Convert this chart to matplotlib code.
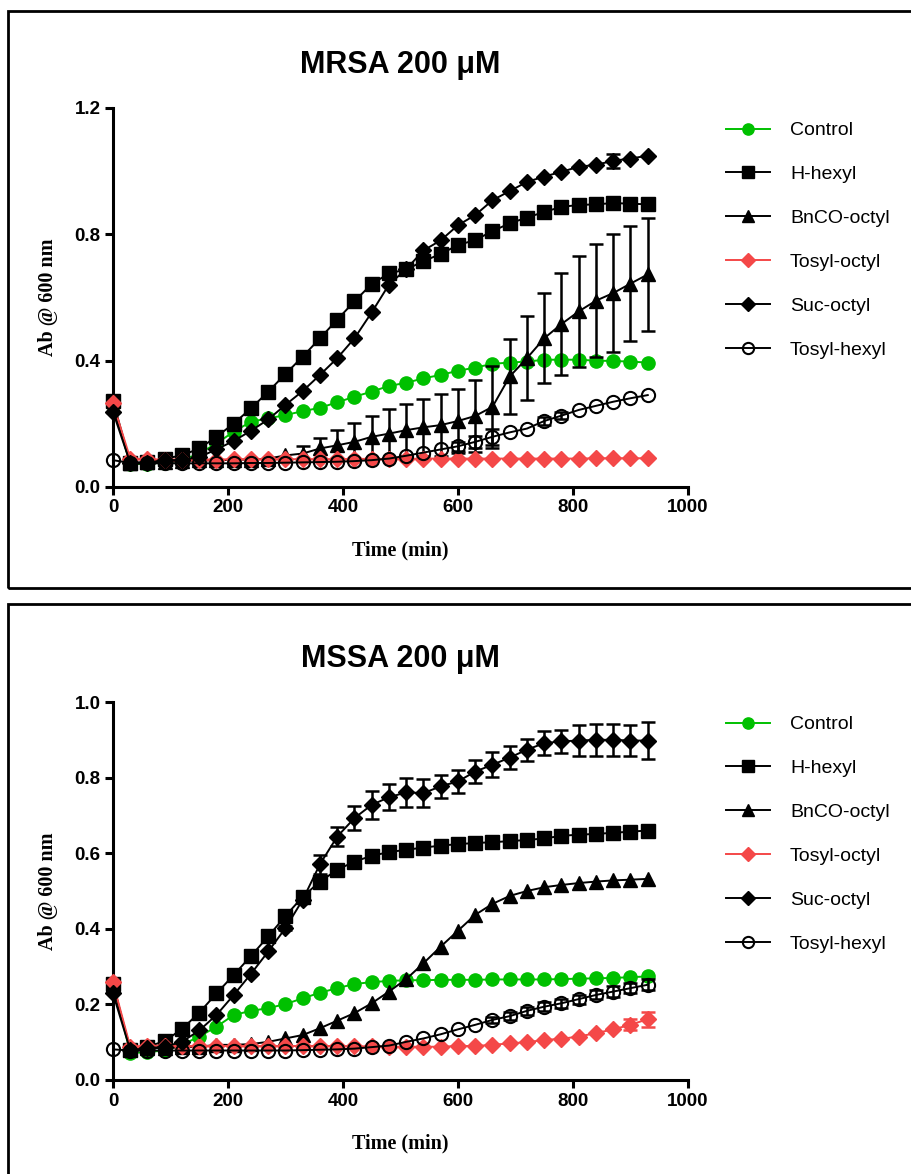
import numpy as np
import matplotlib.pyplot as plt
from matplotlib.patches import Rectangle

# --- data ---
time = [0, 30, 60, 90, 120, 150, 180, 210, 240, 270, 300, 330, 360, 390, 420, 450,
        480, 510, 540, 570, 600, 630, 660, 690, 720, 750, 780, 810, 840, 870, 900, 930]
labels = ['Control', 'H-hexyl', 'BnCO-octyl', 'Tosyl-octyl', 'Suc-octyl', 'Tosyl-hexyl']

# MRSA 200 uM
mrsa_control = [0.26, 0.072, 0.074, 0.077, 0.085, 0.106, 0.138, 0.175, 0.207, 0.217, 0.228, 0.240,
                0.251, 0.268, 0.286, 0.302, 0.320, 0.330, 0.344, 0.355, 0.368, 0.378, 0.390, 0.394,
                0.397, 0.403, 0.403, 0.403, 0.400, 0.399, 0.397, 0.394]
mrsa_hhexyl = [0.273, 0.076, 0.079, 0.090, 0.100, 0.122, 0.159, 0.201, 0.249, 0.302, 0.358, 0.413,
               0.471, 0.530, 0.588, 0.643, 0.676, 0.689, 0.715, 0.738, 0.766, 0.782, 0.810, 0.835,
               0.853, 0.871, 0.887, 0.893, 0.895, 0.899, 0.897, 0.895]
mrsa_bnco = [0.255, 0.076, 0.078, 0.080, 0.082, 0.084, 0.085, 0.086, 0.087, 0.090, 0.100, 0.106,
             0.122, 0.132, 0.143, 0.159, 0.169, 0.180, 0.189, 0.196, 0.209, 0.225, 0.254, 0.350,
             0.408, 0.471, 0.516, 0.556, 0.590, 0.614, 0.644, 0.673]
mrsa_bnco_err = [0, 0, 0, 0, 0, 0, 0, 0, 0, 0, 0, 0.023,
                 0.034, 0.048, 0.061, 0.067, 0.077, 0.083, 0.090, 0.098, 0.101, 0.114, 0.129, 0.119,
                 0.134, 0.143, 0.160, 0.175, 0.178, 0.186, 0.182, 0.180]
mrsa_tosyloct = [0.265, 0.090, 0.088, 0.087, 0.087, 0.087, 0.087, 0.088, 0.088, 0.088, 0.088, 0.088,
                 0.088, 0.088, 0.089, 0.089, 0.089, 0.089, 0.090, 0.090, 0.090, 0.090, 0.090, 0.090,
                 0.090, 0.090, 0.090, 0.090, 0.091, 0.091, 0.091, 0.091]
mrsa_suc = [0.238, 0.076, 0.076, 0.085, 0.085, 0.095, 0.119, 0.146, 0.178, 0.214, 0.260, 0.304,
            0.355, 0.408, 0.471, 0.553, 0.641, 0.690, 0.749, 0.781, 0.829, 0.861, 0.908, 0.937,
            0.966, 0.983, 0.998, 1.014, 1.020, 1.033, 1.040, 1.049]
mrsa_suc_err = [0, 0, 0, 0, 0, 0, 0, 0, 0, 0, 0, 0,
                0, 0, 0, 0, 0, 0, 0, 0, 0, 0, 0, 0,
                0, 0, 0, 0, 0, 0.022, 0, 0]
mrsa_tosylhex = [0.085, 0.076, 0.075, 0.075, 0.075, 0.075, 0.075, 0.075, 0.076, 0.076, 0.077, 0.078,
                 0.079, 0.080, 0.082, 0.085, 0.090, 0.099, 0.109, 0.119, 0.129, 0.143, 0.159, 0.173,
                 0.185, 0.209, 0.226, 0.244, 0.257, 0.270, 0.281, 0.291]
mrsa_tosylhex_err = [0, 0, 0, 0, 0, 0, 0, 0, 0, 0, 0, 0,
                     0, 0, 0, 0, 0, 0, 0, 0, 0.015, 0.020, 0.025, 0,
                     0, 0.012, 0.012, 0, 0, 0, 0, 0]

# MSSA 200 uM
mssa_control = [0.255, 0.072, 0.073, 0.079, 0.093, 0.115, 0.141, 0.172, 0.183, 0.190, 0.201, 0.216,
                0.231, 0.243, 0.254, 0.259, 0.262, 0.264, 0.264, 0.265, 0.265, 0.265, 0.266, 0.266,
                0.266, 0.266, 0.267, 0.268, 0.269, 0.270, 0.272, 0.274]
mssa_hhexyl = [0.255, 0.079, 0.088, 0.103, 0.135, 0.178, 0.229, 0.278, 0.328, 0.380, 0.434, 0.485,
               0.525, 0.556, 0.578, 0.593, 0.603, 0.609, 0.615, 0.620, 0.624, 0.627, 0.629, 0.632,
               0.635, 0.639, 0.646, 0.649, 0.651, 0.654, 0.657, 0.660]
mssa_bnco = [0.250, 0.083, 0.084, 0.085, 0.086, 0.088, 0.093, 0.093, 0.095, 0.101, 0.110, 0.119,
             0.137, 0.157, 0.177, 0.203, 0.234, 0.267, 0.309, 0.353, 0.395, 0.437, 0.466, 0.487,
             0.500, 0.510, 0.516, 0.521, 0.525, 0.528, 0.530, 0.532]
mssa_tosyloct = [0.258, 0.088, 0.091, 0.090, 0.090, 0.090, 0.090, 0.090, 0.090, 0.090, 0.090, 0.090,
                 0.090, 0.090, 0.089, 0.089, 0.088, 0.088, 0.088, 0.088, 0.090, 0.090, 0.093, 0.097,
                 0.100, 0.106, 0.109, 0.115, 0.124, 0.134, 0.146, 0.161]
mssa_tosyloct_err = [0, 0, 0, 0, 0, 0, 0, 0, 0, 0, 0, 0,
                     0, 0, 0, 0, 0, 0, 0, 0, 0, 0, 0, 0,
                     0, 0, 0, 0, 0, 0, 0.015, 0.020]
mssa_suc = [0.229, 0.079, 0.084, 0.088, 0.101, 0.131, 0.172, 0.225, 0.281, 0.340, 0.402, 0.477,
            0.571, 0.644, 0.693, 0.728, 0.748, 0.761, 0.759, 0.777, 0.790, 0.816, 0.834, 0.853,
            0.874, 0.891, 0.896, 0.898, 0.900, 0.900, 0.898, 0.898]
mssa_suc_err = [0, 0, 0, 0, 0, 0, 0, 0, 0, 0, 0.005, 0.010,
                0.025, 0.026, 0.031, 0.037, 0.035, 0.038, 0.038, 0.031, 0.031, 0.031, 0.033, 0.031,
                0.029, 0.031, 0.031, 0.040, 0.042, 0.042, 0.040, 0.048]
mssa_tosylhex = [0.081, 0.078, 0.078, 0.078, 0.078, 0.078, 0.078, 0.078, 0.078, 0.078, 0.078, 0.079,
                 0.080, 0.081, 0.083, 0.087, 0.091, 0.101, 0.110, 0.121, 0.134, 0.146, 0.159, 0.169,
                 0.183, 0.194, 0.203, 0.214, 0.225, 0.234, 0.243, 0.252]
mssa_tosylhex_err = [0, 0, 0, 0, 0, 0, 0, 0, 0, 0, 0, 0,
                     0, 0, 0, 0, 0, 0, 0, 0, 0, 0, 0.008, 0.010,
                     0.010, 0.012, 0.012, 0.012, 0.012, 0.014, 0.014, 0.014]

GREEN = '#00c000'
RED = '#f44848'
styles = [
    dict(color=GREEN, marker='o', ms=9.5, mfc=GREEN, mec=GREEN),
    dict(color='black', marker='s', ms=9.5, mfc='black', mec='black'),
    dict(color='black', marker='^', ms=9.5, mfc='black', mec='black'),
    dict(color=RED, marker='D', ms=8.5, mfc=RED, mec=RED),
    dict(color='black', marker='D', ms=8.5, mfc='black', mec='black'),
    dict(color='black', marker='o', ms=9.5, mfc='none', mec='black', mew=1.5),
]

plt.rcParams['font.family'] = 'Liberation Sans'

W, H = 912, 1174
fig = plt.figure(figsize=(W / 100, H / 100), dpi=100)

# panel frames
for top, bot in [(11, 588), (604, 1185)]:
    fig.add_artist(Rectangle((8 / W, 1 - bot / H), 1.2, (bot - top) / H,
                             transform=fig.transFigure, fill=False, lw=2, ec='black'))


def panel(rect, title, series, errs, ylim, yticks, leg_y):
    ax = fig.add_axes(rect)
    x = np.array(time)
    for i, (lab, y) in enumerate(zip(labels, series)):
        y = np.array(y)
        st = styles[i]
        err = errs.get(i)
        if err is not None:
            err = np.array(err)
            m = err > 0
            ax.errorbar(x[m], y[m], yerr=err[m], fmt='none', ecolor=st['color'],
                        elinewidth=1.8, capsize=5, capthick=1.8, zorder=2 + i)
        ax.plot(x, y, label=lab, lw=1.4, clip_on=False, zorder=3 + i, **st)
    ax.set_xlim(0, 1000)
    ax.set_ylim(*ylim)
    ax.set_xticks([0, 200, 400, 600, 800, 1000])
    ax.set_yticks(yticks)
    ax.set_yticklabels([f'{v:.1f}' for v in yticks])
    for s in ['top', 'right']:
        ax.spines[s].set_visible(False)
    for s in ['left', 'bottom']:
        ax.spines[s].set_linewidth(2.2)
    ax.tick_params(direction='out', length=6, width=2.2, labelsize=13.5, pad=3)
    for t in ax.get_xticklabels() + ax.get_yticklabels():
        t.set_fontweight('bold')
    ax.set_title(title, fontsize=22, fontweight='bold', pad=25)
    ax.set_ylabel('Ab @ 600 nm', family='Liberation Serif', fontweight='bold',
                  fontsize=14.5, labelpad=12)
    ax.set_xlabel('Time (min)', family='Liberation Serif', fontweight='bold',
                  fontsize=14.5, labelpad=17)
    ax.legend(loc='upper left', bbox_to_anchor=(716 / W, 1 - leg_y / H),
              bbox_transform=fig.transFigure, frameon=False, fontsize=14,
              handlelength=2.3, handletextpad=1.0, labelspacing=1.35, borderpad=0,
              markerscale=0.85)
    return ax


panel([113 / W, 1 - 487 / H, 575 / W, 379 / H], 'MRSA 200 \u03bcM',
      [mrsa_control, mrsa_hhexyl, mrsa_bnco, mrsa_tosyloct, mrsa_suc, mrsa_tosylhex],
      {2: mrsa_bnco_err, 4: mrsa_suc_err, 5: mrsa_tosylhex_err},
      (0, 1.2), [0.0, 0.4, 0.8, 1.2], 112)

panel([113 / W, 1 - 1080 / H, 575 / W, 378 / H], 'MSSA 200 \u03bcM',
      [mssa_control, mssa_hhexyl, mssa_bnco, mssa_tosyloct, mssa_suc, mssa_tosylhex],
      {3: mssa_tosyloct_err, 4: mssa_suc_err, 5: mssa_tosylhex_err},
      (0, 1.0), [0.0, 0.2, 0.4, 0.6, 0.8, 1.0], 706)

fig.savefig('out.png', dpi=100)
